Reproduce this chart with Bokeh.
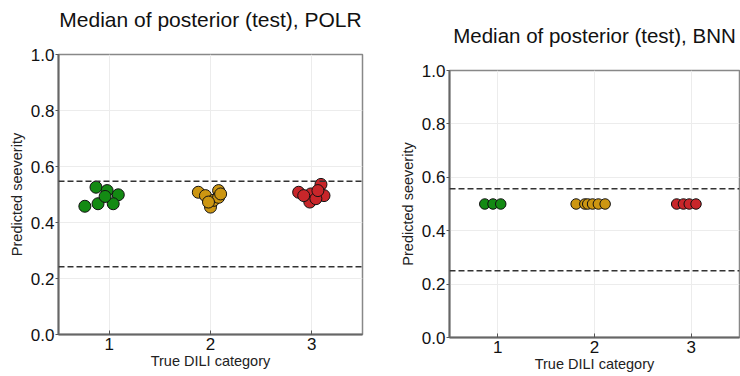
from bokeh.plotting import figure
from bokeh.layouts import row, column
from bokeh.models import Span, FixedTicker, PrintfTickFormatter, Range1d, Title
from bokeh.embed import file_html
from bokeh.resources import INLINE

FONT = "Liberation Sans"

categories = [1, 2, 3]
colors = ["#138a13", "#cc9612", "#c8262a"]
y_ticks = [0.0, 0.2, 0.4, 0.6, 0.8, 1.0]

# POLR panel (x = jittered category, y = predicted severity)
polr_x = [
    [0.87, 0.98, 1.09, 0.76, 0.89, 1.04, 0.96],
    [1.88, 1.95, 2.00, 2.03, 2.08, 2.08, 2.10, 1.98],
    [2.87, 2.99, 3.09, 3.12, 2.98, 3.04, 2.92, 3.06],
]
polr_y = [
    [0.526, 0.514, 0.499, 0.458, 0.467, 0.467, 0.493],
    [0.508, 0.496, 0.455, 0.479, 0.514, 0.490, 0.502, 0.473],
    [0.508, 0.502, 0.536, 0.496, 0.473, 0.485, 0.496, 0.514],
]
polr_thresholds = [0.242, 0.547]

# BNN panel
bnn_x = [
    [0.865, 0.95, 1.03],
    [1.81, 1.90, 1.93, 1.98, 2.04, 2.11],
    [2.85, 2.92, 2.98, 3.05],
]
bnn_y = [
    [0.50, 0.50, 0.50],
    [0.50, 0.50, 0.50, 0.50, 0.50, 0.50],
    [0.50, 0.50, 0.50, 0.50],
]
bnn_thresholds = [0.25, 0.557]


def make_panel(title, xs, ys, thresholds, width, height, bl, br, bt, bb,
               size, title_size):
    p = figure(width=width, height=height, output_backend="svg",
               toolbar_location=None, x_range=Range1d(0.5, 3.5),
               y_range=Range1d(0.0, 1.0), min_border_left=bl,
               min_border_right=br, min_border_top=bt, min_border_bottom=bb,
               title=None)
    # spacer between frame and title (added first -> closest to the frame)
    p.add_layout(Title(text=" ", text_font_size="1px", standoff=19), "above")
    p.add_layout(Title(text=title, text_font=FONT, text_font_size=title_size,
                       text_font_style="normal", align="center",
                       text_color="#111111", standoff=4), "above")

    p.outline_line_color = "#888888"
    p.outline_line_width = 1.5
    p.background_fill_color = "white"
    p.border_fill_color = "white"

    p.xgrid.grid_line_color = "#ececec"
    p.ygrid.grid_line_color = "#ececec"

    p.xaxis.ticker = FixedTicker(ticks=categories)
    p.yaxis.ticker = FixedTicker(ticks=y_ticks)
    p.yaxis.formatter = PrintfTickFormatter(format="%.1f")
    for ax in (p.xaxis, p.yaxis):
        ax.axis_line_color = "#666666"
        ax.axis_line_width = 2
        ax.major_tick_line_color = "#555555"
        ax.minor_tick_line_color = None
        ax.major_label_text_font = FONT
        ax.major_label_text_font_size = "17px"
        ax.major_label_text_color = "#111111"
        ax.axis_label_text_font = FONT
        ax.axis_label_text_font_size = "14.5px"
        ax.axis_label_text_font_style = "normal"
        ax.axis_label_text_color = "#222222"
    p.yaxis.major_tick_out = 3
    p.yaxis.major_tick_in = 0
    p.yaxis.major_label_standoff = 1
    p.xaxis.major_tick_out = 0
    p.xaxis.major_tick_in = 4
    p.xaxis.major_label_standoff = 3
    p.xaxis.axis_label = "True DILI category"
    p.yaxis.axis_label = "Predicted seeverity"
    p.xaxis.axis_label_standoff = 0
    p.yaxis.axis_label_standoff = 3

    for thr in thresholds:
        p.add_layout(Span(location=thr, dimension="width", line_color="#333333",
                          line_width=1.5, line_dash="6 3"))

    for x, y, c in zip(xs, ys, colors):
        p.scatter(x, y, size=size, fill_color=c, line_color="#111111",
                  line_width=1, fill_alpha=1.0)
    return p


p1 = make_panel("Median of posterior (test), POLR", polr_x, polr_y,
                polr_thresholds, 370, 376, 58, 8, 54, 42, 12, "21px")
p2 = make_panel("Median of posterior (test), BNN", bnn_x, bnn_y,
                bnn_thresholds, 370, 376, 79, 1, 70, 39, 10.5, "20.5px")

layout = row(column(p1), column(p2))
open("out.html", "w").write(file_html(layout, INLINE))
